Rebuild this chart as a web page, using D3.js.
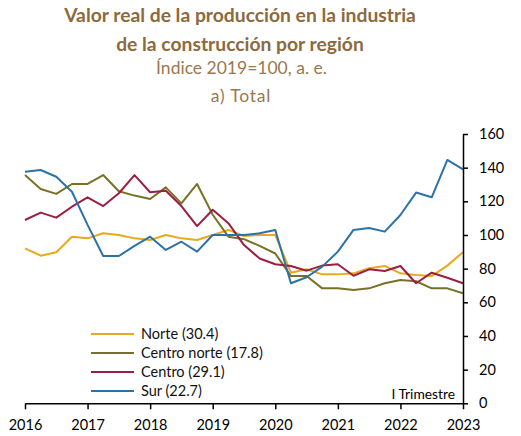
<!DOCTYPE html>
<html>
<head>
<meta charset="utf-8">
<script src="https://cdn.jsdelivr.net/npm/d3@7"></script>
<style>
  html, body { margin: 0; padding: 0; background: #fff; }
  svg { display: block; }
  text { font-family: Lato, "Open Sans", sans-serif; }
</style>
</head>
<body>
<svg id="chart" width="521" height="436"></svg>
<script>
const titleLines = ["Valor real de la producción en la industria", "de la construcción por región"];
const subtitle = "Índice 2019=100, a. e.";
const panelLabel = "a) Total";
const periodNote = "I Trimestre";

const startYear = 2016;
const yearTicks = [2016, 2017, 2018, 2019, 2020, 2021, 2022, 2023];
const valueTicks = [0, 20, 40, 60, 80, 100, 120, 140, 160];

const seriesNames = ["Norte (30.4)", "Centro norte (17.8)", "Centro (29.1)", "Sur (22.7)"];
const seriesColors = ["#E8A91C", "#787226", "#9A1F43", "#2D72A6"];

// Quarterly values, 2016 Q1 .. 2023 Q1
const norte = [92.1, 87.7, 89.7, 99, 98, 101, 100, 98, 97, 100, 98, 97, 100, 103, 99.4, 100, 100, 77.6, 79.6, 76.6, 76.6, 77.2, 80.2, 81.6, 77.2, 76.2, 75.6, 81.8, 89.8];
const centroNorte = [135.6, 127.3, 124.4, 130.3, 130.3, 135.6, 126, 123.4, 121.4, 128.3, 118.8, 130.3, 112, 99, 97.5, 93.5, 89, 75.6, 75.6, 68.3, 68.3, 67.3, 68.3, 71.3, 73.3, 72.5, 68.3, 68.3, 65.4];
const centro = [108.9, 113.3, 110.3, 116.8, 122.4, 117.2, 124.8, 135.6, 125.4, 126.3, 117.2, 105.3, 115, 107, 94, 86, 82.6, 81.6, 78.8, 81.8, 82.6, 75.8, 79.6, 78.6, 81.6, 71.3, 77.6, 74.6, 71.3];
const sur = [137.6, 138.6, 134.6, 125.7, 106, 87.5, 87.5, 93.5, 99, 91.1, 96, 90.1, 100, 100, 100, 101, 103, 71.3, 74.9, 81.2, 90.1, 103, 104.2, 102, 111.9, 125.2, 122.4, 144.6, 139];

const allSeries = [norte, centroNorte, centro, sur];

const svg = d3.select("#chart");

const x = d3.scaleLinear().domain([2016, 2023]).range([25, 463]);
const y = d3.scaleLinear().domain([0, 160]).range([403.3, 134]);

// Titles
const titleColor = "#8C6A3D";
const subColor = "#9A7850";
svg.append("text").attr("x", 240).attr("y", 21.5).attr("text-anchor", "middle")
  .attr("font-size", 19.3).attr("font-weight", "bold").attr("fill", titleColor).text(titleLines[0]);
svg.append("text").attr("x", 240).attr("y", 50.5).attr("text-anchor", "middle")
  .attr("font-size", 19.3).attr("font-weight", "bold").attr("fill", titleColor).text(titleLines[1]);
svg.append("text").attr("x", 241.5).attr("y", 73.5).attr("text-anchor", "middle")
  .attr("font-size", 17.5).attr("fill", subColor).text(subtitle);
svg.append("text").attr("x", 241).attr("y", 101.5).attr("text-anchor", "middle")
  .attr("font-size", 17.5).attr("letter-spacing", 0.8).attr("fill", subColor).text(panelLabel);

// Lines
const line = d3.line()
  .x((d, i) => x(startYear + i * 0.25))
  .y(d => y(d));

allSeries.forEach((s, k) => {
  svg.append("path").datum(s)
    .attr("d", line)
    .attr("fill", "none")
    .attr("stroke", seriesColors[k])
    .attr("stroke-width", 2)
    .attr("stroke-linejoin", "round");
});

// X axis
const xAxis = d3.axisBottom(x).tickValues(yearTicks).tickFormat(d3.format("d")).tickSize(6).tickSizeOuter(0);
const gx = svg.append("g").attr("transform", `translate(0,${y(0)})`).call(xAxis);
gx.select(".domain").attr("stroke", "#000").attr("stroke-width", 1.5);
gx.selectAll(".tick line").attr("stroke", "#000").attr("stroke-width", 1.5);
gx.selectAll(".tick text").attr("font-size", 14.5).attr("fill", "#000").attr("dy", "1.25em")
  .style("font-family", "Lato, sans-serif");

// Y axis (right)
const yAxis = d3.axisRight(y).tickValues(valueTicks).tickSize(5).tickSizeOuter(0);
const gy = svg.append("g").attr("transform", `translate(${x(2023)},0)`).call(yAxis);
gy.select(".domain").attr("stroke", "#000").attr("stroke-width", 1.5);
gy.selectAll(".tick line").attr("stroke", "#000").attr("stroke-width", 1.5);
gy.selectAll(".tick text").attr("font-size", 14.5).attr("fill", "#000").attr("x", 16)
  .style("font-family", "Lato, sans-serif");

// Period note
svg.append("text").attr("x", 455).attr("y", 399).attr("text-anchor", "end")
  .attr("font-size", 13.8).attr("fill", "#000").text(periodNote);

// Legend
const legendY0 = 334, legendStep = 19;
seriesNames.forEach((name, k) => {
  const ly = legendY0 + k * legendStep;
  svg.append("line").attr("x1", 91).attr("x2", 134).attr("y1", ly).attr("y2", ly)
    .attr("stroke", seriesColors[k]).attr("stroke-width", 2);
  svg.append("text").attr("x", 141).attr("y", ly + 5).attr("font-size", 14.5)
    .attr("fill", "#111").text(name);
});
</script>
</body>
</html>
